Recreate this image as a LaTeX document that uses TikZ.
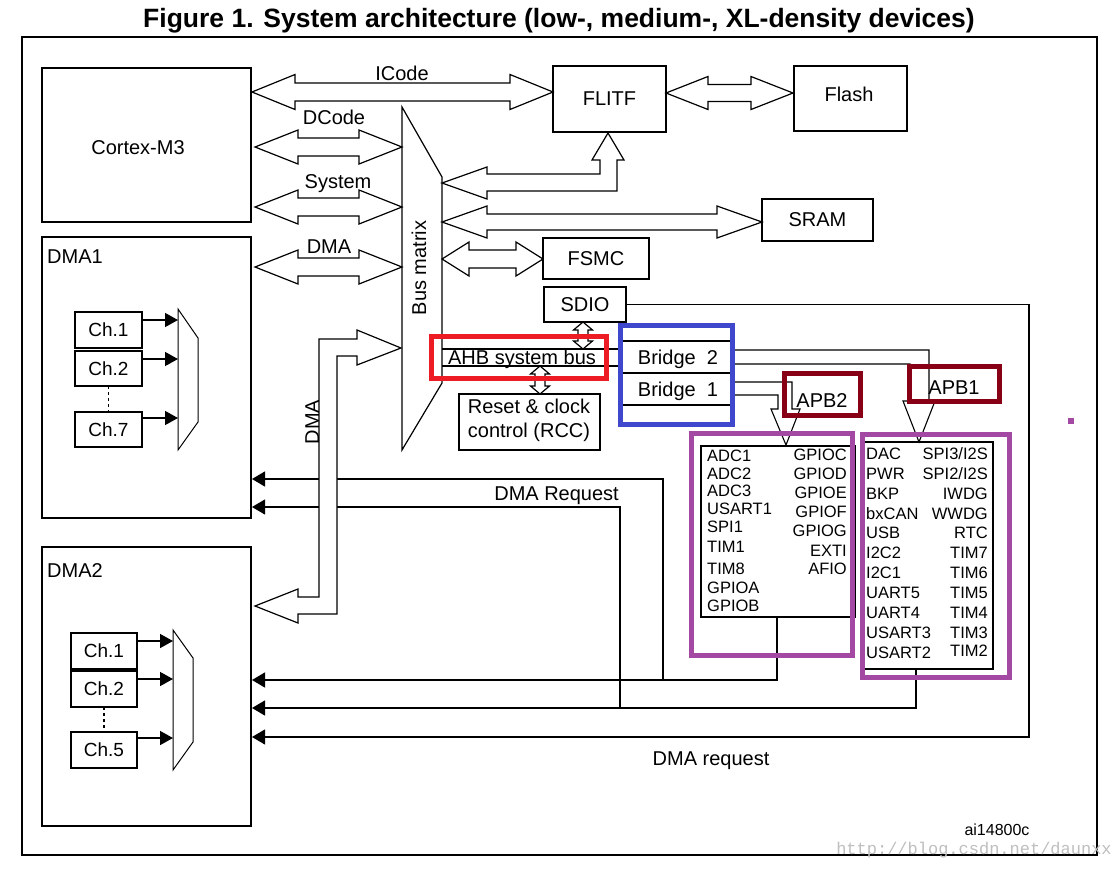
\documentclass[tikz,border=0pt]{standalone}
\usepackage{fontspec}
\setmainfont{Liberation Sans}
\newfontfamily\wmfont{Liberation Mono}
\usetikzlibrary{arrows.meta}
\definecolor{redbox}{RGB}{237,28,36}
\definecolor{bluebox}{RGB}{63,72,204}
\definecolor{aprbox}{RGB}{136,0,21}
\definecolor{purp}{RGB}{163,73,164}
\newcommand\mybox[6]{\node[box, minimum width={(#4-#2)*1pt}, minimum height={(#5-#3)*1pt}] (#1) at ({(#2+#4)/2},{(#3+#5)/2}) {#6};}
% horizontal hollow double arrow: x1 x2 y headlen headhalf shafthalf
\newcommand\hda[6]{\filldraw[fat] (#1,#3) -- ({#1+#4},{#3-#5}) -- ({#1+#4},{#3-#6}) -- ({#2-#4},{#3-#6}) -- ({#2-#4},{#3-#5}) -- (#2,#3) -- ({#2-#4},{#3+#5}) -- ({#2-#4},{#3+#6}) -- ({#1+#4},{#3+#6}) -- ({#1+#4},{#3+#5}) -- cycle;}
% vertical hollow double arrow: x y1 y2 headlen headhalf shafthalf
\newcommand\vda[6]{\filldraw[fat] (#1,#2) -- ({#1+#5},{#2+#4}) -- ({#1+#6},{#2+#4}) -- ({#1+#6},{#3-#4}) -- ({#1+#5},{#3-#4}) -- (#1,#3) -- ({#1-#5},{#3-#4}) -- ({#1-#6},{#3-#4}) -- ({#1-#6},{#2+#4}) -- ({#1-#5},{#2+#4}) -- cycle;}
\begin{document}
\begin{tikzpicture}[x=1pt,y=-1pt,
  box/.style={draw, line width=1.6pt, inner sep=0pt, outer sep=0pt, font=\fontsize{20}{24}\selectfont},
  lbl/.style={inner sep=0pt, font=\fontsize{20}{24}\selectfont, text height=14.3pt, text depth=0pt},
  per/.style={inner sep=0pt, font=\fontsize{16.5}{19}\selectfont, text height=11.8pt, text depth=0pt},
  fat/.style={draw, line width=1.2pt, fill=white, line join=miter},
  wire/.style={draw, line width=1.4pt},
  req/.style={wire, -{Triangle[length=13pt,width=15pt]}},
  chan/.style={wire, -{Triangle[length=13pt,width=14pt]}},
  mux/.style={draw, line width=1pt},
  note/.style={draw, line width=5pt},
]
\useasboundingbox (0,0) rectangle (1120,871);
\fill[white] (0,0) rectangle (1120,871);

\node[inner sep=0pt, font=\bfseries\fontsize{26.5}{30}\selectfont, text height=19pt, text depth=0pt] (title) at (559,18) {Figure 1. System architecture (low-, medium-, XL-density devices)};
\draw[line width=2pt] (22,37) rectangle (1097,855);

% main boxes
\mybox{cortex}{42}{68}{251}{222}{}
\node[lbl] (cortexlbl) at (138,147) {Cortex-M3};
\mybox{dma1}{42}{237}{251}{518}{}
\node[lbl, anchor=west] (dma1lbl) at (47,256) {DMA1};
\mybox{dma2}{42}{547}{251}{826}{}
\node[lbl, anchor=west] (dma2lbl) at (47,570) {DMA2};
\mybox{flitf}{553}{66}{666}{132}{FLITF}
\mybox{flash}{794}{66}{907}{131}{}
\node[lbl] (flashlbl) at (849,94) {Flash};
\mybox{sram}{762}{199}{873}{241}{SRAM}
\mybox{fsmc}{543}{238}{649}{279}{FSMC}
\mybox{sdio}{544}{287}{626}{322}{SDIO}
\mybox{rcc}{459}{394}{600}{450}{}
\node[inner sep=0pt, font=\fontsize{20}{24}\selectfont, align=center] (rcclbl) at (529,420) {Reset \& clock\\control (RCC)};

% DMA1 channels
\mybox{ca1}{75}{312}{142}{348}{\fontsize{19}{22}\selectfont Ch.1}
\mybox{ca2}{75}{351}{142}{386}{\fontsize{19}{22}\selectfont Ch.2}
\mybox{ca7}{75}{412}{142}{447}{\fontsize{19}{22}\selectfont Ch.7}
\draw[line width=1.6pt, dash pattern=on 3pt off 3pt] (ca2.south) -- (ca7.north);
\draw[mux] (178,309) -- (198,338) -- (198,422) -- (178,450) -- cycle;
\draw[chan] (142,320) -- (178,320);
\draw[chan] (142,359) -- (178,359);
\draw[chan] (142,418) -- (178,418);

% DMA2 channels
\mybox{cb1}{71}{633}{137}{669}{\fontsize{19}{22}\selectfont Ch.1}
\mybox{cb2}{71}{671}{137}{707}{\fontsize{19}{22}\selectfont Ch.2}
\mybox{cb5}{71}{732}{137}{768}{\fontsize{19}{22}\selectfont Ch.5}
\draw[line width=1.6pt, dash pattern=on 3pt off 3pt] (cb2.south) -- (cb5.north);
\draw[mux] (173,630) -- (193,658) -- (193,742) -- (173,770) -- cycle;
\draw[chan] (137,641) -- (173,641);
\draw[chan] (137,679) -- (173,679);
\draw[chan] (137,738) -- (173,738);

% bus matrix
\filldraw[fat] (402,107) -- (442,177) -- (442,383) -- (402,450) -- cycle;
\node[lbl, rotate=90] (busm) at (419,268) {Bus matrix};

% fat arrows
\hda{252}{553}{92}{43}{17.5}{9}
\node[lbl] (icode) at (402,73) {ICode};
\hda{255}{402}{147}{43}{17}{9}
\node[lbl] (dcode) at (334,117) {DCode};
\hda{255}{402}{207}{43}{17}{9}
\node[lbl] (system) at (338,181) {System};
\hda{255}{402}{267}{43}{17}{9}
\node[lbl] (dmalbl) at (329,246) {DMA};
\hda{666}{793}{93}{42}{16.5}{8.5}
\hda{442}{762}{222}{45}{16}{8}
\hda{442}{543}{259}{27}{17}{9}
\filldraw[fat] (442,183) -- (487,167) -- (487,174) -- (600,174) -- (600,160) -- (592,160) -- (608,133) -- (624,160) -- (617,160) -- (617,191) -- (487,191) -- (487,199) -- cycle;

% AHB bus and bridges
\draw[wire] (442,349) -- (620,349);
\draw[wire] (442,366) -- (620,366);
\node[lbl] (ahb) at (522,357) {AHB system bus};
\vda{583}{322}{349}{8}{9.5}{5}
\vda{540}{366}{394}{8}{9.5}{5}
\draw[wire] (620,341) -- (732,341);
\draw[wire] (620,373) -- (732,373);
\draw[wire] (620,405) -- (732,405);
\node[lbl] (br2) at (678,357) {Bridge\ \ 2};
\node[lbl] (br1) at (678,389) {Bridge\ \ 1};

% APB arrows
\filldraw[fat, line width=1.1pt] (732,350) -- (929,350) -- (929,401) -- (935,401) -- (919,442) -- (903,401) -- (910,401) -- (910,364) -- (732,364);
\filldraw[fat, line width=1.1pt] (732,382) -- (792,382) -- (792,409) -- (800,409) -- (786,445) -- (771,409) -- (778,409) -- (778,395) -- (732,395);
\node[lbl] (apb2) at (822,400) {APB2};
\node[lbl] (apb1) at (954,387) {APB1};

% peripheral boxes
\draw[line width=1.6pt] (701,446) rectangle (855,617);
\foreach \t/\y in {ADC1/456,ADC2/474,ADC3/491,USART1/509,SPI1/527,TIM1/547,TIM8/569,GPIOA/588,GPIOB/606}
  \node[per, anchor=west] at (707,\y) {\t};
\foreach \t/\y in {GPIOC/455,GPIOD/474,GPIOE/493,GPIOF/512,GPIOG/531,EXTI/551,AFIO/569}
  \node[per, anchor=east] at (847,\y) {\t};
\draw[line width=1.6pt] (864,442) rectangle (993,669);
\foreach \t/\y in {DAC/454,PWR/474,BKP/494,bxCAN/514,USB/533,I2C2/553,I2C1/573,UART5/593,UART4/613,USART3/633,USART2/653}
  \node[per, anchor=west] at (866,\y) {\t};
\node[per, anchor=east] (spi3) at (988,454) {SPI3/I2S};
\node[per, anchor=east] (spi2) at (988,474) {SPI2/I2S};
\foreach \t/\y in {IWDG/494,WWDG/514,RTC/533,TIM7/553,TIM6/573,TIM5/593,TIM4/613,TIM3/633,TIM2/651}
  \node[per, anchor=east] at (988,\y) {\t};

% request lines
\draw[req, line width=1.1pt] (sdio.east) -- (1029,304.5) -- (1029,737) -- (252,737);
\draw[req] (777,617) -- (777,680) -- (252,680);
\draw[req] (916,669) -- (916,708) -- (252,708);
\draw[req] (663,680) -- (663,479) -- (252,479);
\draw[req, line width=1.1pt] (620,708) -- (620,507) -- (252,507);
\node[lbl, anchor=east] (dmareq) at (619,493) {DMA Request};
\node[lbl] (dmareq2) at (711,758) {DMA request};

% DMA bent arrow
\filldraw[fat] (401,348) -- (357,330) -- (357,339) -- (319,339) -- (319,597) -- (298,597) -- (298,589) -- (255,606) -- (298,623) -- (298,614) -- (337,614) -- (337,356) -- (357,356) -- (357,365) -- cycle;
\node[lbl, rotate=90] (dmav) at (312,422) {DMA};

% annotation rectangles
\draw[note, redbox] (431,336) rectangle (606,378);
\draw[note, bluebox] (620,325) rectangle (732,424);
\draw[note, aprbox] (784,373) rectangle (860,415);
\draw[note, aprbox] (909,366) rectangle (999,401);
\draw[note, purp] (691,433) rectangle (852,655);
\draw[note, purp] (862,434) rectangle (1009,677);
\fill[purp] (1068,418) rectangle (1074,424);

\node[inner sep=0pt, font=\fontsize{16}{19}\selectfont] (code) at (997,830) {ai14800c};
\node[inner sep=0pt, font=\wmfont\fontsize{17}{19}\selectfont, text=black!25] (wm) at (974,850) {http://blog.csdn.net/daunxx};
\end{tikzpicture}
\end{document}
